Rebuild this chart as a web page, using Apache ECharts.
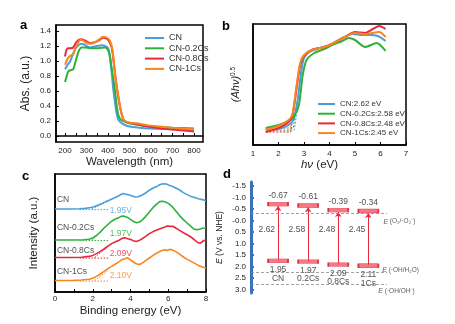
<!DOCTYPE html>
<html><head><meta charset="utf-8">
<script src="https://cdn.jsdelivr.net/npm/echarts@6/dist/echarts.min.js"></script>
<style>html,body{margin:0;padding:0;background:#fff}#c{width:455px;height:324px}</style>
</head><body><div id="c"></div><script>
const FONT = '"Liberation Sans", Arial, Helvetica, sans-serif';
const COLORS = ['#4a9fd9', '#2fb03a', '#e8283c', '#f7861f'];

// ---------- panel a : UV-vis absorbance ----------
const legendA = ['CN', 'CN-0.2Cs', 'CN-0.8Cs', 'CN-1Cs'];
const absCN = [[200,0.89],[212,0.95],[223,0.99],[238,1.10],[250,1.17],[262,1.21],[277,1.23],[295,1.21],[316,1.18],[347,1.20],[370,1.21],[386,1.20],[401,1.17],[410,1.02],[418,0.82],[425,0.61],[433,0.44],[440,0.30],[448,0.22],[456,0.19],[470,0.16],[494,0.13],[548,0.11],[600,0.10],[704,0.09],[800,0.08]];
const absCs02 = [[200,0.72],[208,0.80],[215,0.86],[228,0.88],[238,0.89],[250,1.00],[262,1.12],[277,1.18],[295,1.18],[316,1.17],[355,1.17],[386,1.18],[401,1.14],[410,1.05],[417,0.90],[425,0.75],[432,0.61],[440,0.42],[448,0.28],[456,0.23],[463,0.21],[490,0.175],[517,0.16],[570,0.135],[626,0.12],[700,0.11],[800,0.10]];
const absCs08 = [[200,1.06],[207,1.15],[215,1.17],[228,1.17],[238,1.18],[250,1.24],[262,1.28],[277,1.29],[295,1.27],[316,1.24],[340,1.25],[355,1.27],[370,1.30],[380,1.31],[392,1.30],[401,1.28],[412,1.22],[420,1.14],[432,0.85],[443,0.61],[456,0.39],[463,0.30],[471,0.22],[479,0.20],[494,0.18],[533,0.16],[580,0.13],[626,0.11],[700,0.085],[800,0.06]];
const absCs1 = [[200,0.95],[210,1.02],[220,1.06],[230,1.08],[238,1.09],[250,1.18],[262,1.25],[270,1.28],[280,1.28],[295,1.25],[316,1.23],[340,1.25],[360,1.29],[375,1.32],[386,1.32],[400,1.30],[409,1.27],[420,1.16],[432,0.84],[443,0.61],[456,0.39],[463,0.30],[471,0.22],[479,0.20],[494,0.18],[533,0.17],[580,0.145],[626,0.13],[700,0.11],[800,0.09]];
const aXTicks = [200,300,400,500,600,700,800];
const aXMinor = [200,250,300,350,400,450,500,550,600,650,700,750,800];
const aYTicks = [0,0.2,0.4,0.6,0.8,1.0,1.2,1.4];

// ---------- panel b : Tauc plot ----------
const legendB = ['CN:2.62 eV', 'CN-0.2Cs:2.58 eV', 'CN-0.8Cs:2.48 eV', 'CN-1Cs:2.45 eV'];
const taucCN = [[1.5,15],[2.0,16],[2.4,20],[2.6,26],[2.75,45],[2.9,75],[3.0,87],[3.2,93],[3.5,96],[4.0,100],[4.5,107],[4.9,111],[5.3,110],[5.6,110],[5.9,109],[6.2,104]];
const taucCs02 = [[1.5,17],[2.0,20],[2.4,24],[2.6,28],[2.8,40],[2.95,70],[3.1,85],[3.4,92],[3.8,96],[4.1,100],[4.5,104],[4.75,107],[5.0,105],[5.4,98],[5.85,102],[6.2,94]];
const taucCs08 = [[1.5,13],[2.0,17],[2.4,23],[2.55,30],[2.7,55],[2.85,80],[3.0,89],[3.3,95],[3.8,98],[4.1,101],[4.6,108],[5.0,113],[5.4,112],[5.7,116],[5.95,119],[6.2,116]];
const taucCs1 = [[1.5,15],[2.0,19],[2.4,25],[2.55,31],[2.7,58],[2.85,82],[3.0,90],[3.3,95],[3.8,98],[4.1,101],[4.6,108],[5.0,112],[5.4,111],[5.95,113],[6.2,108]];
const bandGap = [2.62, 2.58, 2.48, 2.45];
const taucBase = [15, 17, 13, 14];
const bXTicks = [1,2,3,4,5,6,7];

// ---------- panel c : VB-XPS ----------
const xpsCN = [[0,83],[0.5,83],[1.0,83],[1.3,83.2],[1.6,83.6],[1.9,84.5],[2.1,85.5],[2.3,87],[2.5,88.6],[2.7,90.4],[2.9,92],[3.1,93.8],[3.3,95.5],[3.45,97],[3.6,98.6],[3.7,98.8],[3.8,97.6],[3.95,97],[4.1,96],[4.25,95],[4.4,95.2],[4.6,96.8],[4.8,99],[5.0,101.8],[5.2,104],[5.4,105.6],[5.55,107.2],[5.7,108.2],[5.8,107.6],[5.9,108],[6.05,106.8],[6.2,105.8],[6.4,104],[6.6,102],[6.8,99.4],[7.0,97.4],[7.2,95.6],[7.4,94.4],[7.6,93.2],[7.8,92.4],[8.0,91.5]];
const xpsCs02 = [[0,52],[0.5,52],[1.0,52],[1.5,52.2],[1.8,52.8],[2.0,54],[2.2,56.5],[2.4,60],[2.6,64],[2.8,67.5],[3.0,70.8],[3.2,73],[3.4,74.6],[3.55,76],[3.7,75.6],[3.85,74.4],[4.0,72.6],[4.15,70.6],[4.3,69.4],[4.45,69.8],[4.6,71.6],[4.8,75.4],[5.0,80],[5.2,84.6],[5.4,88.2],[5.55,90.4],[5.7,90.8],[5.85,90],[6.0,88.6],[6.2,85.6],[6.4,81],[6.6,76.4],[6.8,72.4],[7.0,69],[7.2,65.6],[7.35,63],[7.5,62.4],[7.65,62.8],[7.8,63.8],[8.0,64]];
const xpsCs08 = [[0,34.5],[0.5,34.5],[1.0,34.5],[1.4,34.8],[1.8,35.6],[2.0,36.6],[2.2,38.4],[2.4,40.6],[2.6,43],[2.8,45.8],[3.0,48.4],[3.2,50.2],[3.4,51.8],[3.55,53.6],[3.7,54.2],[3.85,53.2],[4.0,52.6],[4.15,51.2],[4.3,50.4],[4.45,51.4],[4.6,53],[4.8,55.6],[5.0,58.4],[5.2,60.4],[5.4,62],[5.6,63.6],[5.8,64.8],[5.95,66],[6.1,65.6],[6.25,65.8],[6.4,64],[6.6,61.6],[6.8,59.2],[7.0,57.2],[7.2,55],[7.4,52],[7.55,49.6],[7.7,48.8],[7.85,51],[8.0,52.2]];
const xpsCs1 = [[0,11.5],[0.5,11.5],[1.0,11.6],[1.4,12],[1.8,12.8],[2.0,13.8],[2.2,15.6],[2.4,18],[2.6,20.6],[2.8,23.4],[3.0,25.6],[3.2,28],[3.4,30.4],[3.55,32.4],[3.7,33.2],[3.85,34.2],[4.0,32.2],[4.15,30],[4.3,28.2],[4.45,27.4],[4.6,28.6],[4.8,31.4],[5.0,34],[5.2,36.6],[5.4,39],[5.6,41],[5.8,42.2],[5.95,41.6],[6.1,42.8],[6.25,41.8],[6.4,40.4],[6.6,37.8],[6.8,35],[7.0,32.6],[7.2,30.6],[7.4,28.6],[7.6,26.6],[7.8,25],[8.0,24]];
const cNames = ['CN', 'CN-0.2Cs', 'CN-0.8Cs', 'CN-1Cs'];
const cNameY = [92, 64, 41, 20.3];
const vbOnset = [1.95, 1.97, 2.09, 2.10];
const vbOnsetText = ['1.95V', '1.97V', '2.09V', '2.10V'];
const cValY = [81, 58.5, 38, 16];
const xpsBase = [83, 52, 34.5, 11.5];
const tangentEnd = [91, 68, 46, 22];
const cXTicks = [0,2,4,6,8];
const cXMinor = [0,1,2,3,4,5,6,7,8];

// ---------- panel d : band structure ----------
const dCats = ['CN', '0.2Cs', '0.8Cs', '1Cs'];
const dX = [1, 2, 3, 4];
const cbText = ['-0.67', '-0.61', '-0.39', '-0.34'];
const cbLevel = [-0.71, -0.65, -0.45, -0.41];
const vbText = ['1.95', '1.97', '2.09', '2.11'];
const vbLevel = [1.76, 1.79, 1.92, 1.97];
const gapText = ['2.62', '2.58', '2.48', '2.45'];
const redoxLevels = [-0.33, 2.27, 2.78];
const dYTicks = [-1.5,-1.0,-0.5,0,0.5,1.0,1.5,2.0,2.5,3.0];

const chart = echarts.init(document.getElementById('c'), null, {renderer: 'canvas'});
const series = [];

const axisBlack = {lineStyle: {color: '#000', width: 1.5}};
const tickStyle = {inside: true, length: 3, lineStyle: {color: '#000', width: 1}};
const lblStyle = {fontSize: 8, color: '#222', fontFamily: FONT};

// a
[absCN, absCs02, absCs08, absCs1].forEach((d, i) => series.push({
  type: 'line', name: legendA[i], xAxisIndex: 0, yAxisIndex: 0, data: d,
  symbol: 'none', smooth: 0.25, lineStyle: {width: 2, color: COLORS[i]}, itemStyle: {color: COLORS[i]}, z: 3 + i
}));
// b
[taucCN, taucCs02, taucCs08, taucCs1].forEach((d, i) => series.push({
  type: 'line', name: legendB[i], xAxisIndex: 1, yAxisIndex: 1, data: d,
  symbol: 'none', smooth: 0.25, lineStyle: {width: 2, color: COLORS[i]}, itemStyle: {color: COLORS[i]}, z: 3 + i
}));
bandGap.forEach((g, i) => series.push({
  type: 'line', xAxisIndex: 1, yAxisIndex: 1, symbol: 'none', silent: true,
  data: [[1.5, taucBase[i]], [g, taucBase[i]], [g + 0.1, taucBase[i] + 18]],
  lineStyle: {width: 1, type: [2, 1.5], color: COLORS[i]}, z: 2
}));
// c
[xpsCN, xpsCs02, xpsCs08, xpsCs1].forEach((d, i) => series.push({
  type: 'line', xAxisIndex: 2, yAxisIndex: 2, data: d,
  symbol: 'none', lineStyle: {width: 1.6, color: COLORS[i]}, z: 3
}));
vbOnset.forEach((o, i) => {
  series.push({
    type: 'line', xAxisIndex: 2, yAxisIndex: 2, symbol: 'none', silent: true,
    data: [[1.3, xpsBase[i] - 0.6], [2.85, xpsBase[i] - 0.6]],
    lineStyle: {width: 1, type: [1.5, 1.5], color: COLORS[i]}, z: 2
  });
  series.push({
    type: 'line', xAxisIndex: 2, yAxisIndex: 2, symbol: 'none', silent: true,
    data: [[o, xpsBase[i]], [2.85, tangentEnd[i]]],
    lineStyle: {width: 1, type: [1.5, 1.5], color: COLORS[i]}, z: 2
  });
});
series.push({
  type: 'scatter', xAxisIndex: 2, yAxisIndex: 2, symbolSize: 0, silent: true,
  data: cNames.map((n, i) => [0.1, cNameY[i]]),
  label: {show: true, position: 'right', distance: 0, fontSize: 8.5, color: '#222', fontFamily: FONT,
    formatter: p => cNames[p.dataIndex]}
});
series.push({
  type: 'scatter', xAxisIndex: 2, yAxisIndex: 2, symbolSize: 0, silent: true,
  data: vbOnset.map((o, i) => ({value: [2.9, cValY[i]], label: {color: COLORS[i]}})),
  label: {show: true, position: 'right', distance: 0, fontSize: 8.5, fontFamily: FONT,
    formatter: p => vbOnsetText[p.dataIndex]}
});

// d
const RED = '#e8283c';
series.push({
  type: 'lines', coordinateSystem: 'cartesian2d', xAxisIndex: 3, yAxisIndex: 3, silent: true,
  data: dX.map((x, i) => ({coords: [[x, vbLevel[i]], [x, cbLevel[i] + 0.08]]})),
  lineStyle: {color: RED, width: 1, opacity: 1}, symbol: ['none', 'arrow'], symbolSize: 5, z: 2
});
series.push({
  type: 'scatter', xAxisIndex: 3, yAxisIndex: 3, silent: true,
  data: dX.map((x, i) => [x, cbLevel[i]]),
  symbol: 'rect', symbolSize: [20, 4],
  itemStyle: {color: '#f25865', borderColor: '#d0162a', borderWidth: 0.8},
  label: {show: true, position: 'top', distance: 2, fontSize: 8.5, color: '#222', fontFamily: FONT,
    formatter: p => cbText[p.dataIndex]},
  markLine: {
    symbol: 'none', silent: true, label: {show: false},
    lineStyle: {type: [3, 2], color: '#8a8a8a', width: 0.8},
    data: redoxLevels.map(v => ({yAxis: v}))
  },
  z: 4
});
series.push({
  type: 'scatter', xAxisIndex: 3, yAxisIndex: 3, silent: true,
  data: dX.map((x, i) => [x, vbLevel[i]]),
  symbol: 'rect', symbolSize: [20, 4],
  itemStyle: {color: '#f25865', borderColor: '#d0162a', borderWidth: 0.8},
  label: {show: true, position: 'bottom', distance: 2, fontSize: 8.5, color: '#222', fontFamily: FONT,
    formatter: p => vbText[p.dataIndex]},
  z: 4
});
series.push({
  type: 'scatter', xAxisIndex: 3, yAxisIndex: 3, symbolSize: 0, silent: true,
  data: dX.map((x, i) => [x, vbLevel[i]]),
  label: {show: true, position: 'bottom', distance: 13, fontSize: 8.5, color: '#222', fontFamily: FONT,
    formatter: p => dCats[p.dataIndex]}
});
series.push({
  type: 'scatter', xAxisIndex: 3, yAxisIndex: 3, symbolSize: 0, silent: true,
  data: dX.map(x => [x, 0.42]),
  label: {show: true, position: 'left', distance: 3, fontSize: 8.5, color: '#222', fontFamily: FONT,
    formatter: p => gapText[p.dataIndex]}
});
const redoxText = ['{i|E} (O₂/·O₂⁻)', '{i|E} (·OH/H₂O)', '{i|E} (·OH/OH⁻)'];
series.push({
  type: 'scatter', xAxisIndex: 3, yAxisIndex: 3, symbolSize: 0, silent: true,
  data: [[4.5, 0.05], [4.46, 2.16], [4.33, 3.06]],
  label: {show: true, position: 'right', distance: 0, fontSize: 6.5, color: '#333', fontFamily: FONT,
    formatter: p => redoxText[p.dataIndex],
    rich: {i: {fontStyle: 'italic', fontSize: 7, fontFamily: FONT, color: '#333'}}}
});

const option = {
  animation: false,
  backgroundColor: '#fff',
  textStyle: {fontFamily: FONT},
  grid: [
    {left: 56, top: 25, width: 147, height: 117, show: true, borderColor: '#000', borderWidth: 1.5, backgroundColor: 'transparent'},
    {left: 253, top: 24, width: 153, height: 121, show: true, borderColor: '#000', borderWidth: 1.5, backgroundColor: 'transparent'},
    {left: 55, top: 174, width: 151, height: 118, show: true, borderColor: '#000', borderWidth: 1.5, backgroundColor: 'transparent'},
    {left: 251, top: 182, width: 136, height: 111, show: false}
  ],
  xAxis: [
    {gridIndex: 0, type: 'value', min: 158, max: 842, splitLine: {show: false}, axisLine: axisBlack,
      axisTick: Object.assign({customValues: aXMinor}, tickStyle),
      axisLabel: Object.assign({customValues: aXTicks, margin: 5}, lblStyle),
      name: 'Wavelength (nm)', nameLocation: 'middle', nameGap: 11,
      nameTextStyle: {fontSize: 11.5, color: '#222', fontFamily: FONT, verticalAlign: 'top'}},
    {gridIndex: 1, type: 'value', min: 1, max: 7, splitLine: {show: false}, axisLine: axisBlack,
      axisTick: Object.assign({customValues: bXTicks}, tickStyle),
      axisLabel: Object.assign({customValues: bXTicks, margin: 5}, lblStyle),
      name: '{i|hν} (eV)', nameLocation: 'middle', nameGap: 8,
      nameTextStyle: {fontSize: 11.5, color: '#222', fontFamily: FONT, verticalAlign: 'top', padding: [0, 20, 0, 0],
        rich: {i: {fontStyle: 'italic', fontSize: 11.5, color: '#222', fontFamily: FONT}}}},
    {gridIndex: 2, type: 'value', min: 0, max: 8, splitLine: {show: false}, axisLine: axisBlack,
      axisTick: Object.assign({customValues: cXMinor}, tickStyle),
      axisLabel: Object.assign({customValues: cXTicks, margin: 3}, lblStyle),
      name: 'Binding energy (eV)', nameLocation: 'middle', nameGap: 13,
      nameTextStyle: {fontSize: 11.5, color: '#222', fontFamily: FONT, verticalAlign: 'top'}},
    {gridIndex: 3, type: 'value', min: 0.1, max: 4.62, show: false}
  ],
  yAxis: [
    {gridIndex: 0, type: 'value', min: -0.08, max: 1.48, splitLine: {show: false}, axisLine: axisBlack,
      axisTick: Object.assign({customValues: aYTicks}, tickStyle),
      axisLabel: Object.assign({customValues: aYTicks, margin: 5, formatter: v => v.toFixed(1)}, lblStyle),
      name: 'Abs. (a.u.)', nameLocation: 'middle', nameGap: 24,
      nameTextStyle: {fontSize: 12, color: '#222', fontFamily: FONT}},
    {gridIndex: 1, type: 'value', min: 0, max: 121, splitLine: {show: false}, axisLine: axisBlack,
      axisTick: {show: false}, axisLabel: {show: false},
      name: '{i|(Ahν)}{s|0.5}', nameLocation: 'middle', nameGap: 12,
      nameTextStyle: {fontSize: 11, color: '#222', fontFamily: FONT,
        rich: {i: {fontStyle: 'italic', fontSize: 11, color: '#222', fontFamily: FONT, verticalAlign: 'bottom'},
               s: {fontSize: 6.5, color: '#222', fontFamily: FONT, verticalAlign: 'top'}}}},
    {gridIndex: 2, type: 'value', min: 0, max: 118, splitLine: {show: false}, axisLine: axisBlack,
      axisTick: {show: false}, axisLabel: {show: false},
      name: 'Intensity (a.u.)', nameLocation: 'middle', nameGap: 15,
      nameTextStyle: {fontSize: 11.5, color: '#222', fontFamily: FONT}},
    {gridIndex: 3, type: 'value', inverse: true, min: -1.674, max: 3.156, splitLine: {show: false},
      axisLine: {lineStyle: {color: '#3a72b8', width: 3}},
      axisTick: {customValues: dYTicks, inside: true, length: 3, lineStyle: {color: '#3a72b8', width: 2}},
      axisLabel: {customValues: dYTicks, margin: 5, fontSize: 8, color: '#222', fontFamily: FONT,
        formatter: v => (Math.abs(v) < 1e-9 ? '-0.0' : v.toFixed(1))},
      name: '{i|E} (V vs. NHE)', nameLocation: 'middle', nameGap: 27,
      nameTextStyle: {fontSize: 8.5, color: '#222', fontFamily: FONT,
        rich: {i: {fontStyle: 'italic', fontSize: 8.5, color: '#222', fontFamily: FONT}}}}
  ],
  legend: [
    {data: legendA, left: 140, top: 28, orient: 'vertical', icon: 'rect', itemWidth: 19, itemHeight: 2, itemGap: 0.3,
      selectedMode: false, textStyle: {fontSize: 9, lineHeight: 10, color: '#333', fontFamily: FONT}},
    {data: legendB, left: 313, top: 94.5, orient: 'vertical', icon: 'rect', itemWidth: 17, itemHeight: 2, itemGap: 0.7,
      selectedMode: false, textStyle: {fontSize: 8, lineHeight: 9, color: '#333', fontFamily: FONT}}
  ],
  graphic: [
    {type: 'text', left: 20, top: 19, style: {text: 'a', fontSize: 13, fontWeight: 'bold', fill: '#000', fontFamily: FONT}},
    {type: 'text', left: 222, top: 20, style: {text: 'b', fontSize: 13, fontWeight: 'bold', fill: '#000', fontFamily: FONT}},
    {type: 'text', left: 22, top: 170, style: {text: 'c', fontSize: 13, fontWeight: 'bold', fill: '#000', fontFamily: FONT}},
    {type: 'text', left: 223, top: 168, style: {text: 'd', fontSize: 13, fontWeight: 'bold', fill: '#000', fontFamily: FONT}}
  ],
  series: series
};
chart.setOption(option);
</script></body></html>
